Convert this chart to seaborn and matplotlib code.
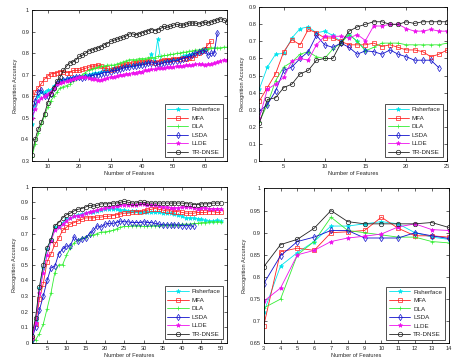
import numpy as np
import pandas as pd
import matplotlib
matplotlib.use('Agg')
import matplotlib.pyplot as plt
import seaborn as sns

# 방법 이름과 색상/마커
methods = ['Fisherface', 'MFA', 'DLA', 'LSDA', 'LLDE', 'TR-DNSE']
colors = ['#00e5ee', '#ff2020', '#33ee33', '#1010cc', '#ee10ee', '#222222']
marks = ['*', 's', '+', 'd', '*', 'o']
hollow = [False, True, False, True, False, True]

# (a) 왼쪽 위: 시작 x, 값
tl_start = [5, 5, 5, 5, 5, 5]
tl_fisher = [0.47, 0.56, 0.60, 0.62, 0.62, 0.63, 0.63, 0.65, 0.66, 0.67, 0.675, 0.68, 0.685, 0.685, 0.69, 0.69,
             0.69, 0.70, 0.70, 0.705, 0.71, 0.71, 0.715, 0.72, 0.72, 0.725, 0.73, 0.73, 0.735, 0.74, 0.74, 0.745,
             0.745, 0.75, 0.75, 0.755, 0.755, 0.76, 0.795, 0.76, 0.865, 0.765, 0.765, 0.77, 0.77, 0.775, 0.775,
             0.78, 0.785, 0.79, 0.79, 0.795, 0.80, 0.805, 0.81, 0.815]
tl_mfa = [0.57, 0.62, 0.64, 0.66, 0.68, 0.695, 0.705, 0.705, 0.71, 0.715, 0.715, 0.71, 0.71, 0.72, 0.72, 0.72,
          0.725, 0.73, 0.735, 0.74, 0.74, 0.745, 0.74, 0.73, 0.73, 0.72, 0.725, 0.73, 0.74, 0.745, 0.75, 0.75,
          0.755, 0.755, 0.76, 0.76, 0.76, 0.765, 0.76, 0.755, 0.76, 0.765, 0.77, 0.77, 0.77, 0.775, 0.775, 0.775,
          0.78, 0.775, 0.78, 0.78, 0.79, 0.80, 0.81, 0.82, 0.84, 0.855]
tl_dla = [0.32, 0.38, 0.43, 0.47, 0.51, 0.55, 0.58, 0.60, 0.62, 0.64, 0.645, 0.65, 0.655, 0.67, 0.68, 0.69,
          0.70, 0.71, 0.72, 0.725, 0.73, 0.735, 0.74, 0.74, 0.745, 0.745, 0.745, 0.75, 0.755, 0.76, 0.765, 0.77,
          0.77, 0.77, 0.775, 0.775, 0.775, 0.78, 0.78, 0.78, 0.785, 0.785, 0.79, 0.79, 0.795, 0.795, 0.80, 0.80,
          0.805, 0.805, 0.81, 0.81, 0.815, 0.815, 0.82, 0.82, 0.82, 0.825, 0.825, 0.825, 0.825, 0.828, 0.828]
tl_lsda = [0.53, 0.58, 0.62, 0.63, 0.60, 0.60, 0.61, 0.64, 0.66, 0.67, 0.675, 0.68, 0.68, 0.685, 0.69, 0.69,
           0.685, 0.69, 0.695, 0.695, 0.70, 0.70, 0.705, 0.71, 0.71, 0.715, 0.72, 0.72, 0.725, 0.73, 0.735, 0.735,
           0.74, 0.74, 0.745, 0.745, 0.75, 0.755, 0.755, 0.755, 0.75, 0.75, 0.755, 0.76, 0.76, 0.765, 0.765, 0.77,
           0.775, 0.78, 0.785, 0.79, 0.80, 0.805, 0.81, 0.815, 0.79, 0.80, 0.80, 0.895]
tl_llde = [0.50, 0.54, 0.58, 0.59, 0.60, 0.61, 0.62, 0.64, 0.655, 0.66, 0.665, 0.67, 0.675, 0.68, 0.685, 0.69,
           0.69, 0.69, 0.685, 0.68, 0.68, 0.675, 0.675, 0.68, 0.685, 0.69, 0.69, 0.695, 0.70, 0.70, 0.705, 0.705,
           0.71, 0.71, 0.715, 0.715, 0.72, 0.72, 0.725, 0.725, 0.73, 0.73, 0.73, 0.735, 0.735, 0.735, 0.74, 0.74,
           0.74, 0.745, 0.745, 0.745, 0.75, 0.75, 0.75, 0.745, 0.75, 0.75, 0.755, 0.76, 0.765, 0.77, 0.77]
tl_tr = [0.33, 0.40, 0.45, 0.48, 0.52, 0.57, 0.61, 0.64, 0.67, 0.69, 0.72, 0.74, 0.755, 0.76, 0.77, 0.785,
         0.79, 0.80, 0.81, 0.815, 0.82, 0.825, 0.83, 0.84, 0.845, 0.855, 0.86, 0.865, 0.87, 0.875, 0.88, 0.89,
         0.89, 0.885, 0.89, 0.895, 0.90, 0.905, 0.91, 0.905, 0.91, 0.915, 0.925, 0.92, 0.925, 0.93, 0.935, 0.93,
         0.93, 0.935, 0.94, 0.94, 0.94, 0.935, 0.94, 0.945, 0.94, 0.945, 0.95, 0.955, 0.96, 0.955, 0.945]

# (b) 오른쪽 위
tr_start = [2, 2, 2, 2, 2, 2]
tr_fisher = [0.42, 0.55, 0.625, 0.63, 0.72, 0.775, 0.785, 0.75, 0.76, 0.735, 0.70, 0.74, 0.70, 0.65]
tr_mfa = [0.35, 0.43, 0.51, 0.64, 0.71, 0.68, 0.77, 0.75, 0.72, 0.72, 0.70, 0.68, 0.68, 0.68, 0.69, 0.67,
          0.68, 0.665, 0.65, 0.65, 0.64, 0.61, 0.625, 0.65]
tr_dla = [0.23, 0.33, 0.47, 0.55, 0.58, 0.625, 0.64, 0.61, 0.60, 0.655, 0.69, 0.74, 0.70, 0.645, 0.665, 0.69,
          0.69, 0.69, 0.68, 0.68, 0.68, 0.68, 0.68, 0.69]
tr_lsda = [0.29, 0.33, 0.41, 0.53, 0.55, 0.60, 0.64, 0.735, 0.68, 0.665, 0.69, 0.665, 0.625, 0.645, 0.64, 0.625,
           0.65, 0.625, 0.61, 0.59, 0.59, 0.59, 0.545]
tr_llde = [0.25, 0.42, 0.45, 0.49, 0.585, 0.60, 0.59, 0.68, 0.73, 0.73, 0.73, 0.72, 0.74, 0.705, 0.79, 0.79,
           0.80, 0.80, 0.775, 0.76, 0.76, 0.77, 0.76, 0.76]
tr_tr = [0.22, 0.36, 0.37, 0.43, 0.45, 0.51, 0.53, 0.59, 0.60, 0.60, 0.69, 0.76, 0.785, 0.80, 0.815, 0.815,
         0.80, 0.80, 0.815, 0.805, 0.815, 0.815, 0.815, 0.815]

# (c) 왼쪽 아래
bl_start = [1, 1, 1, 1, 1, 1]
bl_fisher = [0.02, 0.14, 0.35, 0.48, 0.60, 0.66, 0.74, 0.74, 0.77, 0.79, 0.80, 0.81, 0.82, 0.825, 0.83, 0.835,
             0.84, 0.845, 0.85, 0.855, 0.86, 0.86, 0.855, 0.85, 0.85, 0.845, 0.845, 0.845, 0.84, 0.84, 0.84, 0.835,
             0.835, 0.835, 0.83, 0.83, 0.83, 0.825, 0.82, 0.81, 0.80, 0.80, 0.80, 0.795, 0.79, 0.785, 0.78, 0.78,
             0.785, 0.78]
bl_mfa = [0.03, 0.12, 0.28, 0.38, 0.52, 0.57, 0.63, 0.67, 0.72, 0.74, 0.76, 0.77, 0.78, 0.79, 0.80, 0.80,
          0.80, 0.805, 0.805, 0.81, 0.81, 0.815, 0.82, 0.825, 0.83, 0.83, 0.835, 0.84, 0.84, 0.845, 0.85, 0.855,
          0.86, 0.855, 0.85, 0.845, 0.845, 0.84, 0.84, 0.835, 0.83, 0.83, 0.83, 0.835, 0.835, 0.835, 0.84, 0.84,
          0.835, 0.835]
bl_dla = [0.0, 0.02, 0.06, 0.12, 0.22, 0.32, 0.45, 0.50, 0.50, 0.56, 0.61, 0.64, 0.66, 0.67, 0.68, 0.69,
          0.69, 0.70, 0.71, 0.71, 0.715, 0.72, 0.73, 0.74, 0.745, 0.745, 0.75, 0.75, 0.75, 0.745, 0.745, 0.75,
          0.75, 0.75, 0.755, 0.755, 0.755, 0.755, 0.755, 0.76, 0.76, 0.76, 0.765, 0.765, 0.77, 0.77, 0.775, 0.775,
          0.775, 0.775]
bl_lsda = [0.02, 0.10, 0.21, 0.30, 0.40, 0.48, 0.49, 0.57, 0.60, 0.62, 0.62, 0.68, 0.65, 0.665, 0.67, 0.70,
           0.72, 0.75, 0.74, 0.76, 0.765, 0.765, 0.77, 0.78, 0.775, 0.775, 0.77, 0.77, 0.77, 0.775, 0.77, 0.77,
           0.765, 0.76, 0.755, 0.755, 0.755, 0.755, 0.755, 0.75, 0.75, 0.75, 0.745]
bl_llde = [0.03, 0.13, 0.32, 0.45, 0.56, 0.65, 0.72, 0.74, 0.76, 0.78, 0.80, 0.81, 0.815, 0.82, 0.83, 0.84,
           0.845, 0.85, 0.86, 0.865, 0.87, 0.87, 0.875, 0.88, 0.885, 0.885, 0.885, 0.885, 0.89, 0.89, 0.885, 0.885,
           0.88, 0.875, 0.87, 0.87, 0.865, 0.865, 0.865, 0.87, 0.87, 0.87, 0.865, 0.86, 0.865, 0.865, 0.86, 0.86,
           0.86, 0.86]
bl_tr = [0.045, 0.16, 0.36, 0.50, 0.61, 0.66, 0.75, 0.77, 0.80, 0.82, 0.83, 0.845, 0.855, 0.86, 0.87, 0.88,
         0.875, 0.88, 0.89, 0.89, 0.89, 0.895, 0.895, 0.90, 0.905, 0.90, 0.895, 0.895, 0.90, 0.90, 0.895, 0.895,
         0.895, 0.895, 0.895, 0.895, 0.895, 0.895, 0.895, 0.895, 0.89, 0.89, 0.885, 0.885, 0.89, 0.89, 0.89, 0.895,
         0.895, 0.895]

# (d) 오른쪽 아래
br_start = [3, 3, 3, 3, 3, 3]
br_fisher = [0.72, 0.825, 0.855, 0.88, 0.915, 0.915, 0.92, 0.925, 0.92, 0.90, 0.89, 0.885]
br_mfa = [0.69, 0.857, 0.865, 0.86, 0.90, 0.902, 0.905, 0.935, 0.91, 0.893, 0.893, 0.89]
br_dla = [0.73, 0.75, 0.85, 0.88, 0.935, 0.905, 0.90, 0.895, 0.89, 0.89, 0.88, 0.877]
br_lsda = [0.785, 0.848, 0.88, 0.89, 0.905, 0.905, 0.888, 0.888, 0.888, 0.90, 0.893, 0.887]
br_llde = [0.745, 0.775, 0.85, 0.86, 0.88, 0.888, 0.892, 0.897, 0.913, 0.92, 0.907, 0.905]
br_tr = [0.823, 0.873, 0.885, 0.91, 0.95, 0.925, 0.92, 0.92, 0.92, 0.92, 0.923, 0.912]

sns.set_style('white')
plt.rcParams['font.family'] = ['Liberation Sans', 'DejaVu Sans']

fig = plt.figure(figsize=(4.54, 3.61), dpi=100)
fs = 4.1
fs_leg = 4.5


def draw(rect, starts, series, xlim, ylim, xticks, yticks, yfmt):
    ax = fig.add_axes(rect)
    for i, name in enumerate(methods):
        y = series[i]
        x = np.arange(starts[i], starts[i] + len(y))
        df = pd.DataFrame({'x': x, 'y': y})
        sns.lineplot(data=df, x='x', y='y', ax=ax, color=colors[i], marker=marks[i],
                     markersize=3.2, linewidth=0.6, markeredgewidth=0.5,
                     markerfacecolor='none' if hollow[i] else colors[i],
                     markeredgecolor=colors[i], label=name)
    ax.set_xlim(*xlim)
    ax.set_ylim(*ylim)
    ax.set_xticks(xticks)
    ax.set_yticks(yticks)
    ax.set_yticklabels([yfmt(v) for v in yticks])
    ax.set_xlabel('Number of Features', fontsize=fs, labelpad=1.5)
    ax.set_ylabel('Recognition Accuracy', fontsize=fs, labelpad=2.5)
    ax.tick_params(direction='in', length=2, width=0.5, labelsize=fs, pad=2,
                   top=True, right=True, bottom=True, left=True)
    for s in ax.spines.values():
        s.set_color('black')
        s.set_linewidth(0.6)
    leg = ax.legend(loc='lower right', fontsize=fs_leg, frameon=True, fancybox=False,
                    borderpad=0.4, labelspacing=0.5, handlelength=3.4, borderaxespad=0.6,
                    handletextpad=0.5)
    leg.get_frame().set_edgecolor('black')
    leg.get_frame().set_linewidth(0.6)
    return ax


def fmt(v):
    s = ('%.2f' % v).rstrip('0').rstrip('.')
    return s


draw([0.0705, 0.554, 0.429, 0.418], tl_start,
     [tl_fisher, tl_mfa, tl_dla, tl_lsda, tl_llde, tl_tr],
     (5, 67), (0.3, 1.0), [10, 20, 30, 40, 50, 60], np.round(np.arange(0.3, 1.01, 0.1), 2), fmt)
draw([0.571, 0.554, 0.414, 0.426], tr_start,
     [tr_fisher, tr_mfa, tr_dla, tr_lsda, tr_llde, tr_tr],
     (2, 25), (0, 0.9), [5, 10, 15, 20, 25], np.round(np.arange(0, 0.91, 0.1), 2), fmt)
draw([0.0698, 0.050, 0.430, 0.433], bl_start,
     [bl_fisher, bl_mfa, bl_dla, bl_lsda, bl_llde, bl_tr],
     (1, 51.6), (0, 1.0), list(range(5, 51, 5)), np.round(np.arange(0, 1.01, 0.1), 2), fmt)
draw([0.581, 0.049, 0.407, 0.429], br_start,
     [br_fisher, br_mfa, br_dla, br_lsda, br_llde, br_tr],
     (3, 14), (0.65, 1.0), list(range(3, 15)), np.round(np.arange(0.65, 1.001, 0.05), 2), fmt)

fig.savefig('out.png', dpi=100)
